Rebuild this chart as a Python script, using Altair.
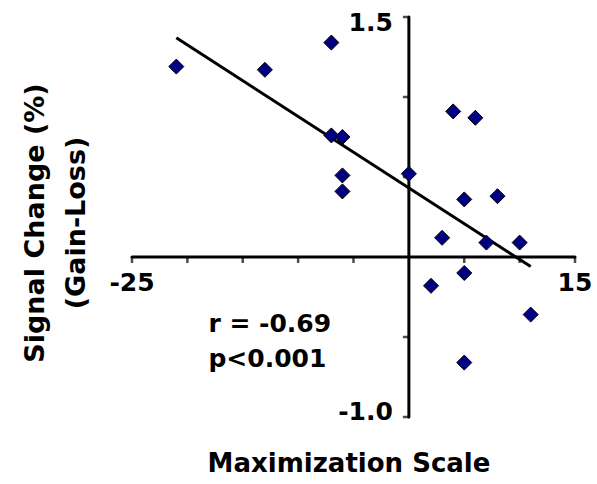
import altair as alt
import pandas as pd

# Maximization scale score vs. signal change (gain - loss), one diamond per subject
max_scale = [-21, -13, -7, -7, -6, -6, -6, 0, 4, 6, 5, 8, 3, 7, 10, 5, 2, 11, 5]
signal_change = [1.19, 1.17, 1.34, 0.76, 0.75, 0.51, 0.41, 0.52, 0.91, 0.87,
                 0.36, 0.38, 0.12, 0.09, 0.09, -0.10, -0.18, -0.36, -0.66]

# Least-squares fit line endpoints
fit_x = [-21, 11]
fit_y = [1.37, -0.06]

# Axis extents and ticks
x_range = [-25, 15]
y_range = [-1.0, 1.5]
x_ticks = [-25, -20, -15, -10, -5, 5, 10, 15]
y_ticks = [-1.0, -0.5, 0.5, 1.0, 1.5]

# Annotation lines
stats_text = ["r = -0.69", "p<0.001"]
stats_y = [-0.47, -0.685]

FONT = "DejaVu Sans"

pts = pd.DataFrame({"x": max_scale, "y": signal_change})
fit = pd.DataFrame({"x": fit_x, "y": fit_y})

xs = alt.Scale(domain=x_range, nice=False, zero=False)
ys = alt.Scale(domain=y_range, nice=False, zero=False)

X = lambda f="x": alt.X(f, type="quantitative", scale=xs, axis=None)
Y = lambda f="y": alt.Y(f, type="quantitative", scale=ys, axis=None)

# axis lines crossing at the origin
x_axis = alt.Chart(pd.DataFrame({"x": [x_range[0]], "x2": [x_range[1]], "y": [0]})).mark_rule(
    color="black", strokeWidth=3, strokeCap="round"
).encode(x=X(), x2="x2", y=Y())
y_axis = alt.Chart(pd.DataFrame({"x": [0], "y": [y_range[0]], "y2": [y_range[1]]})).mark_rule(
    color="black", strokeWidth=3, strokeCap="round"
).encode(x=X(), y=Y(), y2="y2")

x_tick_marks = alt.Chart(pd.DataFrame({"x": x_ticks, "y": [0] * len(x_ticks)})).mark_tick(
    orient="vertical", size=6, thickness=2.5, color="black", yOffset=3
).encode(x=X(), y=Y())
y_tick_marks = alt.Chart(pd.DataFrame({"x": [0] * len(y_ticks), "y": y_ticks})).mark_tick(
    orient="horizontal", size=6, thickness=2.5, color="black", xOffset=-3
).encode(x=X(), y=Y())

x_labels = alt.Chart(pd.DataFrame({"x": [x_range[0], x_range[1]], "y": [0, 0],
                                   "t": ["-25", "15"]})).mark_text(
    font=FONT, fontSize=25, fontWeight="bold", baseline="middle", align="center", dy=26
).encode(x=X(), y=Y(), text="t:N")

y_label_top = alt.Chart(pd.DataFrame({"x": [0], "y": [y_range[1]], "t": ["1.5"]})).mark_text(
    font=FONT, fontSize=25, fontWeight="bold", baseline="middle", align="right", dx=-16, dy=6
).encode(x=X(), y=Y(), text="t:N")
y_label_bot = alt.Chart(pd.DataFrame({"x": [0], "y": [y_range[0]], "t": ["-1.0"]})).mark_text(
    font=FONT, fontSize=25, fontWeight="bold", baseline="middle", align="right", dx=-16, dy=-5
).encode(x=X(), y=Y(), text="t:N")

fit_line = alt.Chart(fit).mark_line(color="black", strokeWidth=3).encode(x=X(), y=Y())

points = alt.Chart(pts).mark_point(
    shape="diamond", size=225, filled=True, fill="#000080", stroke="black",
    strokeWidth=1, opacity=1
).encode(x=X(), y=Y())

stats = alt.Chart(pd.DataFrame({"x": [-18.1, -18.1], "y": stats_y, "t": stats_text})).mark_text(
    font=FONT, fontSize=25, fontWeight="bold", align="left", baseline="alphabetic"
).encode(x=X(), y=Y(), text="t:N")

x_title = alt.Chart(pd.DataFrame({"t": ["Maximization Scale"]})).mark_text(
    font=FONT, fontSize=26, fontWeight="bold", align="center", baseline="alphabetic"
).encode(x=alt.value(217), y=alt.value(455), text="t:N")

y_title = alt.Chart(pd.DataFrame({"t": ["Signal Change (%)", "(Gain-Loss)"],
                                  "px": [-96, -55]})).mark_text(
    font=FONT, fontSize=27, fontWeight="bold", align="center", baseline="middle", angle=270
).encode(x=alt.X("px:Q", scale=None), y=alt.value(206), text="t:N")

chart = alt.layer(
    x_axis, y_axis, x_tick_marks, y_tick_marks, x_labels, y_label_top, y_label_bot,
    fit_line, points, stats, x_title, y_title
).properties(
    width=443, height=400,
    autosize=alt.AutoSizeParams(type="none"),
    padding={"left": 132, "top": 17, "right": 22, "bottom": 67},
    background="white",
).configure_view(stroke=None)

chart.save("out.html", embed_options={"renderer": "svg", "actions": False})
